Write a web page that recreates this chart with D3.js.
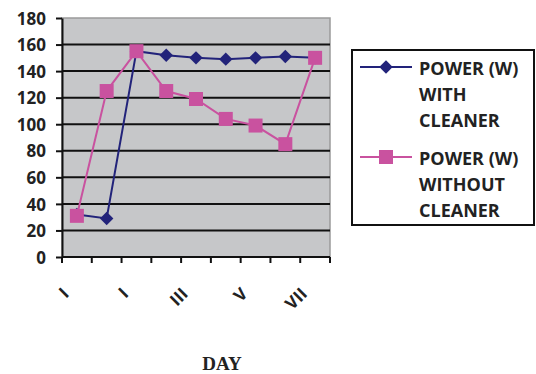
<!DOCTYPE html>
<html>
<head>
<meta charset="utf-8">
<script src="https://cdn.jsdelivr.net/npm/d3@7"></script>
<style>
  body { margin: 0; background: #fff; }
  svg { display: block; }
  .tick-label { font-family: "Open Sans", sans-serif; font-weight: 700; font-size: 17px; fill: #222; }
  .legend-label { font-family: "Open Sans", sans-serif; font-weight: 700; font-size: 18px; fill: #222; }
  .axis-title { font-family: "Liberation Serif", "Times New Roman", serif; font-weight: 700; font-size: 19px; fill: #222; }
</style>
</head>
<body>
<svg id="chart" width="536" height="374"></svg>
<script>
// days along the x axis, only every other one is labelled
const days = ["d1", "d2", "d3", "d4", "d5", "d6", "d7", "d8", "d9"];
const dayLabels = ["I", "", "I", "", "III", "", "V", "", "VII"];

const withCleaner = [32, 29, 155, 152, 150, 149, 150, 151, 150];
const withoutCleaner = [31, 125, 155, 125, 119, 104, 99, 85, 150];

const yTicks = [0, 20, 40, 60, 80, 100, 120, 140, 160, 180];

const seriesNames = [
    ["POWER (W)", "WITH", "CLEANER"],
    ["POWER (W)", "WITHOUT", "CLEANER"]
];

const navy = "#22237a";
const pink = "#c9529f";

const svg = d3.select("#chart");
const plot = {left: 62, right: 330, top: 18, bottom: 257};

const x = d3.scaleBand()
    .domain(days)
    .range([plot.left, plot.right]);

const y = d3.scaleLinear()
    .domain([0, 180])
    .range([plot.bottom, plot.top]);

// plot area
svg.append("rect")
    .attr("x", plot.left)
    .attr("y", plot.top)
    .attr("width", plot.right - plot.left)
    .attr("height", plot.bottom - plot.top)
    .attr("fill", "#c6c7c9")
    .attr("stroke", "#9a9a9a")
    .attr("stroke-width", 1.5);

// gridlines
svg.append("g")
    .selectAll("line")
    .data(yTicks.filter(t => t > 0 && t < 180))
    .enter()
    .append("line")
    .attr("x1", plot.left)
    .attr("x2", plot.right)
    .attr("y1", d => y(d))
    .attr("y2", d => y(d))
    .attr("stroke", "#111")
    .attr("stroke-width", 2);

// y axis
const yAxis = svg.append("g")
    .attr("transform", `translate(${plot.left},0)`)
    .call(d3.axisLeft(y).tickValues(yTicks).tickSize(6).tickSizeOuter(0));
yAxis.select(".domain").attr("stroke", "#111").attr("stroke-width", 2);
yAxis.selectAll(".tick line").attr("stroke", "#111").attr("stroke-width", 2);
yAxis.selectAll(".tick text")
    .attr("class", "tick-label")
    .attr("x", -16)
    .attr("dy", "0.36em")
    .attr("font-size", null)
    .attr("font-family", null);

// x axis: ticks on band edges
const edges = days.map(d => x(d)).concat([plot.right]);
const xAxis = svg.append("g");
xAxis.append("line")
    .attr("x1", plot.left)
    .attr("x2", plot.right)
    .attr("y1", plot.bottom)
    .attr("y2", plot.bottom)
    .attr("stroke", "#111")
    .attr("stroke-width", 2);
xAxis.selectAll(".edge")
    .data(edges)
    .enter()
    .append("line")
    .attr("class", "edge")
    .attr("x1", d => d)
    .attr("x2", d => d)
    .attr("y1", plot.bottom)
    .attr("y2", plot.bottom + 6)
    .attr("stroke", "#111")
    .attr("stroke-width", 2);

xAxis.selectAll(".tick-label")
    .data(days.filter((d, i) => dayLabels[i] !== ""))
    .enter()
    .append("text")
    .attr("class", "tick-label")
    .attr("text-anchor", "end")
    .attr("transform", d => `translate(${x(d) + x.bandwidth() / 2 - 7}, 295) rotate(-45)`)
    .text(d => dayLabels[days.indexOf(d)]);

svg.append("text")
    .attr("class", "axis-title")
    .attr("x", 222)
    .attr("y", 370)
    .attr("text-anchor", "middle")
    .text("DAY");

// series
const cx = d => x(d) + x.bandwidth() / 2;
const line = d3.line()
    .x((v, i) => cx(days[i]))
    .y(v => y(v));

const diamond = d3.symbol().type(d3.symbolSquare).size(90);
const square = d3.symbol().type(d3.symbolSquare).size(196);

svg.append("path")
    .datum(withCleaner)
    .attr("d", line)
    .attr("fill", "none")
    .attr("stroke", navy)
    .attr("stroke-width", 2);

svg.append("g")
    .selectAll("path")
    .data(withCleaner)
    .enter()
    .append("path")
    .attr("d", diamond)
    .attr("transform", (v, i) => `translate(${cx(days[i])},${y(v)}) rotate(45)`)
    .attr("fill", navy);

svg.append("path")
    .datum(withoutCleaner)
    .attr("d", line)
    .attr("fill", "none")
    .attr("stroke", pink)
    .attr("stroke-width", 2);

svg.append("g")
    .selectAll("path")
    .data(withoutCleaner)
    .enter()
    .append("path")
    .attr("d", square)
    .attr("transform", (v, i) => `translate(${cx(days[i])},${y(v)})`)
    .attr("fill", pink);

// legend
const legend = svg.append("g");
legend.append("rect")
    .attr("x", 352)
    .attr("y", 50)
    .attr("width", 182)
    .attr("height", 175)
    .attr("fill", "#fff")
    .attr("stroke", "#111")
    .attr("stroke-width", 2);

const legendRows = [
    {color: navy, marker: diamond, rotate: 45, y: 67},
    {color: pink, marker: square, rotate: 0, y: 157}
];

legendRows.forEach(function(row, i) {
    const g = legend.append("g").attr("transform", `translate(0,${row.y})`);
    g.append("line")
        .attr("x1", 360)
        .attr("x2", 412)
        .attr("stroke", row.color)
        .attr("stroke-width", 2);
    g.append("path")
        .attr("d", row.marker)
        .attr("transform", `translate(386,0) rotate(${row.rotate})`)
        .attr("fill", row.color);
    g.selectAll("text")
        .data(seriesNames[i])
        .enter()
        .append("text")
        .attr("class", "legend-label")
        .attr("x", 419)
        .attr("y", (d, j) => 8 + j * 26)
        .text(d => d);
});
</script>
</body>
</html>
